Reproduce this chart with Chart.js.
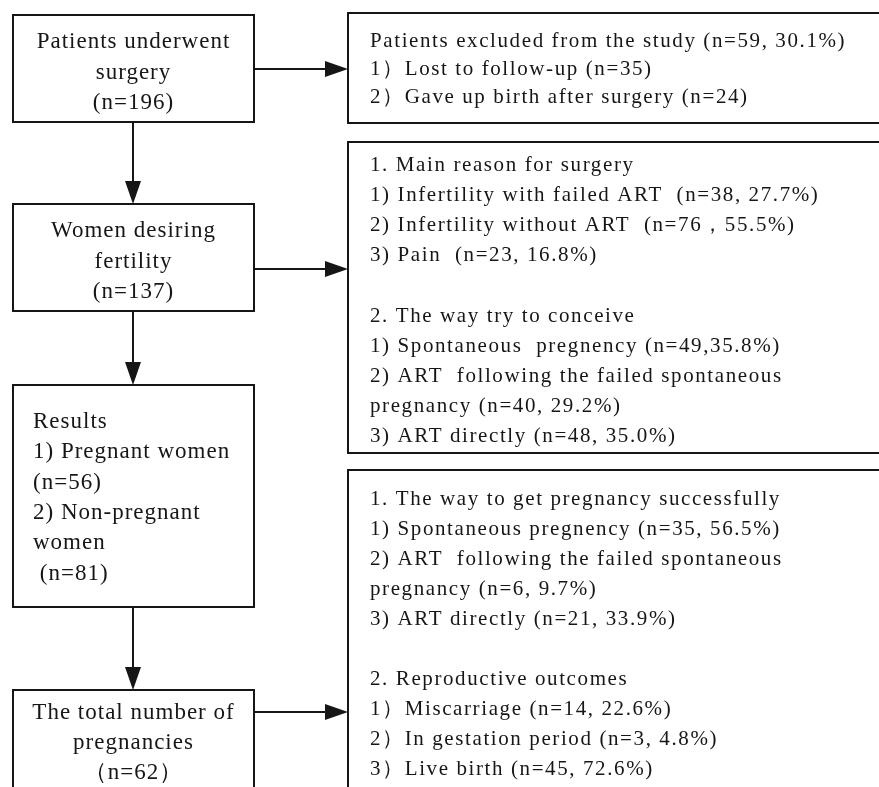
<!DOCTYPE html>
<html>
<head>
<meta charset="utf-8">
<script src="https://cdn.jsdelivr.net/npm/chart.js@4"></script>
<style>
  html, body { margin: 0; padding: 0; background: #fff; }
  canvas { display: block; }
</style>
</head>
<body>
<canvas id="flowChart" width="879" height="787"></canvas>
<script>
// left column steps
const surgeryLines = ['Patients underwent', 'surgery', '(n=196)'];
const desiringLines = ['Women desiring', 'fertility', '(n=137)'];
const resultLines = ['Results', '1) Pregnant women', '(n=56)', '2) Non-pregnant', 'women', ' (n=81)'];
const pregnancyLines = ['The total number of', 'pregnancies', '\uFF08n=62\uFF09'];

// right column details
const excludedLines = [
  'Patients excluded from the study (n=59, 30.1%)',
  '1\uFF09Lost to follow-up (n=35)',
  '2\uFF09Gave up birth after surgery (n=24)'
];
const reasonLines = [
  '1. Main reason for surgery',
  '1) Infertility with failed ART  (n=38, 27.7%)',
  '2) Infertility without ART  (n=76\uFF0C55.5%)',
  '3) Pain  (n=23, 16.8%)',
  '',
  '2. The way try to conceive',
  '1) Spontaneous  pregnency (n=49,35.8%)',
  '2) ART  following the failed spontaneous',
  'pregnancy (n=40, 29.2%)',
  '3) ART directly (n=48, 35.0%)'
];
const outcomeLines = [
  '1. The way to get pregnancy successfully',
  '1) Spontaneous pregnency (n=35, 56.5%)',
  '2) ART  following the failed spontaneous',
  'pregnancy (n=6, 9.7%)',
  '3) ART directly (n=21, 33.9%)',
  '',
  '2. Reproductive outcomes',
  '1\uFF09Miscarriage (n=14, 22.6%)',
  '2\uFF09In gestation period (n=3, 4.8%)',
  '3\uFF09Live birth (n=45, 72.6%)'
];

// layout (in axis units, 1 unit = 1 px)
const boxes = [
  { rect: [13, 15, 254, 122], lines: surgeryLines, align: 'center', y0: 42, lh: 30.5, size: 23, sp: 1 },
  { rect: [13, 204, 254, 311], lines: desiringLines, align: 'center', y0: 231, lh: 30.5, size: 23, sp: 1 },
  { rect: [13, 385, 254, 607], lines: resultLines, align: 'left', tx: 33, y0: 422, lh: 30.3, size: 23, sp: 1 },
  { rect: [13, 690, 254, 820], lines: pregnancyLines, align: 'center', y0: 713, lh: 30, size: 23, sp: 1 },
  { rect: [348, 13, 900, 123], lines: excludedLines, align: 'left', tx: 370, y0: 41, lh: 28, size: 21, sp: 1.6 },
  { rect: [348, 142, 900, 453], lines: reasonLines, align: 'left', tx: 370, y0: 165, lh: 30.2, size: 21, sp: 1.6 },
  { rect: [348, 470, 900, 820], lines: outcomeLines, align: 'left', tx: 370, y0: 499, lh: 30, size: 21, sp: 1.6 }
];
const arrows = [
  [133, 122, 133, 204],
  [133, 311, 133, 385],
  [133, 607, 133, 690],
  [254, 69, 348, 69],
  [254, 269, 348, 269],
  [254, 712, 348, 712]
];

const ink = '#161616';

const flowPlugin = {
  id: 'flow',
  afterDraw(chart) {
    const { ctx, scales: { x, y } } = chart;
    const px = v => x.getPixelForValue(v);
    const py = v => y.getPixelForValue(v);
    ctx.save();
    ctx.strokeStyle = ink;
    ctx.fillStyle = ink;
    ctx.lineWidth = 2;

    boxes.forEach(b => {
      const [x0, y0, x1, y1] = b.rect;
      ctx.strokeRect(px(x0), py(y0), px(x1) - px(x0), py(y1) - py(y0));
      ctx.font = b.size + 'px "Liberation Serif", "Times New Roman", serif';
      ctx.letterSpacing = b.sp + 'px';
      ctx.textBaseline = 'middle';
      ctx.textAlign = b.align;
      const tx = b.align === 'center' ? (x0 + x1) / 2 : b.tx;
      b.lines.forEach((t, i) => {
        if (t) ctx.fillText(t, px(tx), py(b.y0 + i * b.lh));
      });
    });

    arrows.forEach(([ax0, ay0, ax1, ay1]) => {
      const sx = px(ax0), sy = py(ay0), ex = px(ax1), ey = py(ay1);
      const ang = Math.atan2(ey - sy, ex - sx);
      const head = 23, half = 8;
      const bx = ex - head * Math.cos(ang), by = ey - head * Math.sin(ang);
      ctx.beginPath();
      ctx.moveTo(sx, sy);
      ctx.lineTo(bx, by);
      ctx.stroke();
      ctx.beginPath();
      ctx.moveTo(ex, ey);
      ctx.lineTo(bx + half * Math.sin(ang), by - half * Math.cos(ang));
      ctx.lineTo(bx - half * Math.sin(ang), by + half * Math.cos(ang));
      ctx.closePath();
      ctx.fill();
    });
    ctx.restore();
  }
};

new Chart(document.getElementById('flowChart').getContext('2d'), {
  type: 'scatter',
  data: { datasets: [{ data: [] }] },
  options: {
    responsive: false,
    animation: false,
    layout: { padding: 0 },
    plugins: { legend: { display: false }, tooltip: { enabled: false } },
    scales: {
      x: { display: false, min: 0, max: 879 },
      y: { display: false, min: 0, max: 787, reverse: true }
    }
  },
  plugins: [flowPlugin]
});
</script>
</body>
</html>
